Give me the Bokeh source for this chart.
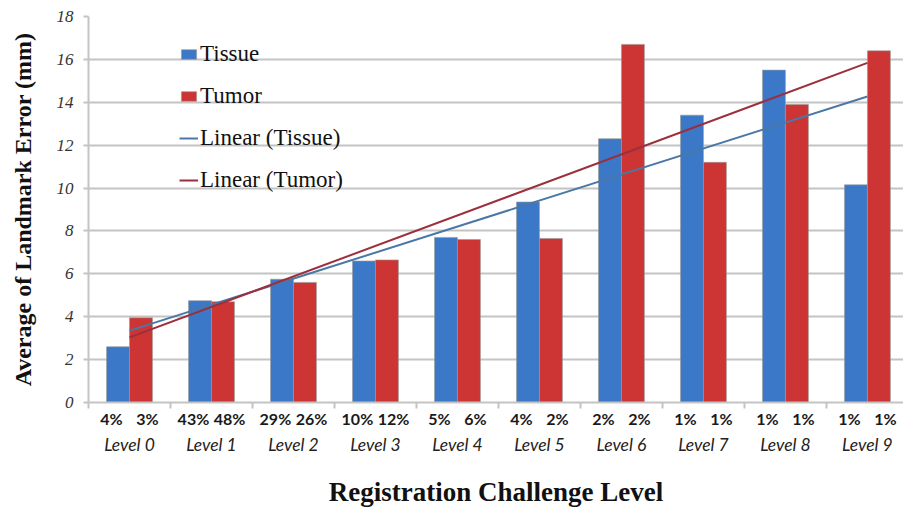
import numpy as np
from bokeh.plotting import figure
from bokeh.models import (FixedTicker, LinearAxis, Range1d, Legend, LegendItem)
from bokeh.embed import file_html
from bokeh.resources import INLINE

levels = ["Level 0", "Level 1", "Level 2", "Level 3", "Level 4",
          "Level 5", "Level 6", "Level 7", "Level 8", "Level 9"]
tissue = [2.6, 4.75, 5.75, 6.6, 7.7, 9.35, 12.3, 13.4, 15.5, 10.15]
tumor = [3.95, 4.7, 5.6, 6.65, 7.6, 7.65, 16.7, 11.2, 13.9, 16.4]
tissue_pct = ["4%", "43%", "29%", "10%", "5%", "4%", "2%", "1%", "1%", "1%"]
tumor_pct = ["3%", "48%", "26%", "12%", "6%", "2%", "2%", "1%", "1%", "1%"]
y_ticks = [0, 2, 4, 6, 8, 10, 12, 14, 16, 18]

BLUE = "#3c78c8"
RED = "#cc3533"
TREND_BLUE = "#4a78a6"
TREND_RED = "#9c2f3c"
GRID = "#c4c4c4"

n = len(levels)
idx = np.arange(n)
bw = 0.28

p = figure(width=903, height=510, x_range=Range1d(-0.5, 9.44), y_range=Range1d(0, 18),
           output_backend="svg", toolbar_location=None, x_axis_type=None,
           min_border_left=88, min_border_right=0, min_border_top=16, min_border_bottom=108)
p.outline_line_color = None
p.background_fill_color = "white"
p.xgrid.visible = False
p.ygrid.ticker = FixedTicker(ticks=y_ticks)
p.ygrid.grid_line_color = GRID
p.ygrid.grid_line_width = 2

# y axis
ya = p.yaxis[0]
ya.ticker = FixedTicker(ticks=y_ticks)
ya.axis_line_color = GRID
ya.axis_line_width = 2
ya.major_tick_line_color = GRID
ya.major_tick_line_width = 2
ya.major_tick_out = 5
ya.major_tick_in = 0
ya.minor_tick_line_color = None
ya.major_label_text_font = "Liberation Serif"
ya.major_label_text_font_style = "italic"
ya.major_label_text_font_size = "17px"
ya.major_label_text_color = "#333333"
ya.major_label_standoff = 10
ya.axis_label = "Average of Landmark Error (mm)"
ya.axis_label_text_font = "Liberation Serif"
ya.axis_label_text_font_style = "bold"
ya.axis_label_text_font_size = "24px"
ya.axis_label_text_color = "#111111"
ya.axis_label_standoff = 18

# bars
r_tis = p.vbar(x=idx - bw / 2, top=tissue, width=bw, fill_color=BLUE,
               line_color="#9a9a9a", line_width=0.6)
r_tum = p.vbar(x=idx + bw / 2, top=tumor, width=bw, fill_color=RED,
               line_color="#9a9a9a", line_width=0.6)

# linear trendlines (least squares over the category index)
st, it = np.polyfit(idx, tissue, 1)
su, iu = np.polyfit(idx, tumor, 1)
ends = np.array([0, n - 1])
r_lt = p.line(ends, it + st * ends, line_color=TREND_BLUE, line_width=2)
r_lu = p.line(ends, iu + su * ends, line_color=TREND_RED, line_width=2)

# percent axis
pct_ticks = []
pct_over = {}
for i in range(n):
    a = round(i - 0.22, 2)
    b = round(i + 0.22, 2)
    pct_ticks += [a, b]
    pct_over[a] = tissue_pct[i]
    pct_over[b] = tumor_pct[i]
xa = LinearAxis(ticker=FixedTicker(ticks=pct_ticks, minor_ticks=[i - 0.5 for i in range(n + 1)]))
xa.major_label_overrides = pct_over
xa.axis_line_color = GRID
xa.axis_line_width = 2
xa.major_tick_line_color = None
xa.major_tick_out = 0
xa.major_tick_in = 0
xa.minor_tick_line_color = GRID
xa.minor_tick_line_width = 2
xa.minor_tick_out = 6
xa.minor_tick_in = 0
xa.major_label_standoff = 0
xa.major_label_text_font = "Lato"
xa.major_label_text_font_style = "bold"
xa.major_label_text_font_size = "16px"
xa.major_label_text_color = "#1a1a1a"
p.add_layout(xa, "below")

# level axis
xb = LinearAxis(ticker=FixedTicker(ticks=list(idx)))
xb.major_label_overrides = {int(i): levels[i] for i in range(n)}
xb.axis_line_color = None
xb.major_tick_line_color = None
xb.minor_tick_line_color = None
xb.major_tick_out = 0
xb.major_tick_in = 0
xb.major_label_standoff = 3
xb.major_label_text_font = "Lato"
xb.major_label_text_font_style = "italic"
xb.major_label_text_font_size = "17.5px"
xb.major_label_text_color = "#222222"
xb.axis_label = "Registration Challenge Level"
xb.axis_label_text_font = "Liberation Serif"
xb.axis_label_text_font_style = "bold"
xb.axis_label_text_font_size = "27px"
xb.axis_label_text_color = "#111111"
xb.axis_label_standoff = 19
p.add_layout(xb, "below")

legend = Legend(items=[
    LegendItem(label="Tissue", renderers=[r_tis]),
    LegendItem(label="Tumor", renderers=[r_tum]),
    LegendItem(label="Linear (Tissue)", renderers=[r_lt]),
    LegendItem(label="Linear (Tumor)", renderers=[r_lu]),
], location=(91, 209))
legend.label_text_font = "Liberation Serif"
legend.label_text_font_size = "23px"
legend.label_text_color = "#111111"
legend.glyph_width = 19
legend.glyph_height = 12
legend.label_height = 22
legend.label_standoff = 2
legend.spacing = 16
legend.padding = 0
legend.margin = 0
legend.border_line_color = None
legend.background_fill_alpha = 0
p.add_layout(legend, "center")

open("out.html", "w").write(file_html(p, INLINE))
